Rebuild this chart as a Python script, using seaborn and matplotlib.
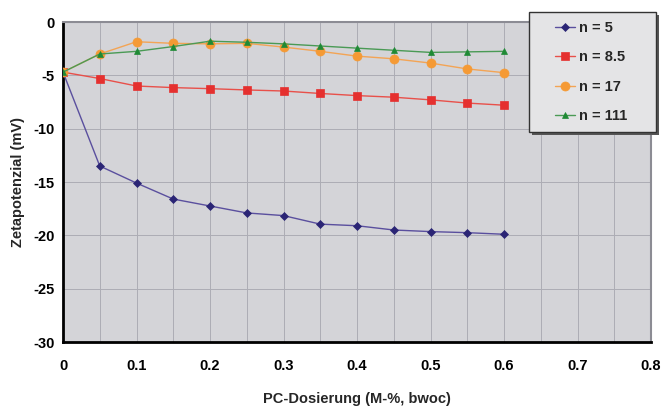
import numpy as np
import pandas as pd
import matplotlib
matplotlib.use("Agg")
import matplotlib.pyplot as plt
import seaborn as sns
from matplotlib.ticker import MultipleLocator
from matplotlib.patches import Rectangle

# PC dosage (M-%, bwoc)
dosage = [0.0, 0.05, 0.1, 0.15, 0.2, 0.25, 0.3, 0.35, 0.4, 0.45, 0.5, 0.55, 0.6]

# Zeta potential (mV) per side-chain length n
zeta_n5 = [-4.7, -13.5, -15.1, -16.6, -17.25, -17.9, -18.15, -18.95, -19.1, -19.5, -19.65, -19.75, -19.9]
zeta_n8_5 = [-4.7, -5.3, -6.0, -6.15, -6.25, -6.37, -6.47, -6.7, -6.9, -7.05, -7.3, -7.6, -7.8]
zeta_n17 = [-4.7, -3.0, -1.85, -2.0, -2.05, -2.0, -2.35, -2.75, -3.2, -3.45, -3.85, -4.4, -4.75]
zeta_n111 = [-4.7, -3.0, -2.75, -2.3, -1.8, -1.9, -2.05, -2.25, -2.45, -2.65, -2.85, -2.8, -2.75]

series_labels = ["n = 5", "n = 8.5", "n = 17", "n = 111"]

x_ticks = [0, 0.1, 0.2, 0.3, 0.4, 0.5, 0.6, 0.7, 0.8]
x_tick_labels = ["0", "0.1", "0.2", "0.3", "0.4", "0.5", "0.6", "0.7", "0.8"]
y_ticks = [0, -5, -10, -15, -20, -25, -30]

df = pd.concat([
    pd.DataFrame({"x": dosage, "y": vals, "serie": lab})
    for lab, vals in zip(series_labels, [zeta_n5, zeta_n8_5, zeta_n17, zeta_n111])
], ignore_index=True)

sns.set_theme(style="white")
plt.rcParams["font.family"] = ["Liberation Sans", "DejaVu Sans"]

line_colors = {"n = 5": "#5a4f9e", "n = 8.5": "#e8504a", "n = 17": "#f3a455", "n = 111": "#4a9a55"}
marker_colors = {"n = 5": "#2b2575", "n = 8.5": "#e5302f", "n = 17": "#f59a35", "n = 111": "#1f8a35"}
markers = {"n = 5": "D", "n = 8.5": "s", "n = 17": "o", "n = 111": "^"}
msizes = {"n = 5": 4.0, "n = 8.5": 6.0, "n = 17": 6.5, "n = 111": 4.5}

W, H = 663, 407
fig = plt.figure(figsize=(W / 100, H / 100), dpi=100)
ax = fig.add_axes([63 / W, 1 - 342 / H, 588 / W, 320 / H])
ax.set_facecolor("#d4d4d8")

for lab in series_labels:
    sub = df[df["serie"] == lab]
    sns.lineplot(data=sub, x="x", y="y", ax=ax, color=line_colors[lab], linewidth=1.0,
                 marker=markers[lab], markersize=msizes[lab],
                 markerfacecolor=marker_colors[lab], markeredgecolor=marker_colors[lab],
                 markeredgewidth=0.5, label=lab, legend=False, zorder=3)

ax.set_xlim(0, 0.8)
ax.set_ylim(-30, 0)
ax.set_xticks(x_ticks)
ax.set_xticklabels(x_tick_labels)
ax.xaxis.set_minor_locator(MultipleLocator(0.05))
ax.set_yticks(y_ticks)
ax.set_yticklabels([str(v) for v in y_ticks])

ax.grid(True, which="both", axis="x", color="#acacb4", linewidth=0.7)
ax.grid(True, which="major", axis="y", color="#acacb4", linewidth=0.7)
ax.set_axisbelow(True)

ax.tick_params(axis="both", which="major", direction="in", length=4, width=1.5,
               colors="black", labelsize=10.5, pad=12)
ax.tick_params(axis="x", which="minor", length=0)
for t in ax.get_xticklabels() + ax.get_yticklabels():
    t.set_fontweight("bold")
ax.tick_params(axis="y", pad=6)

for side in ["left", "bottom"]:
    ax.spines[side].set_color("black")
    ax.spines[side].set_linewidth(2.0)
for side in ["top", "right"]:
    ax.spines[side].set_color("#8c8c94")
    ax.spines[side].set_linewidth(1.5)

ax.set_xlabel("PC-Dosierung (M-%, bwoc)", fontsize=10.5, fontweight="bold", labelpad=14)
ax.set_ylabel("Zetapotenzial (mV)", fontsize=10.5, fontweight="bold", labelpad=6)

# Legend box with drop shadow, drawn in figure pixels
bx0, bx1, by0, by1 = 529, 656, 12, 132
shadow = Rectangle(((bx0 + 3) / W, 1 - (by1 + 3) / H), (bx1 - bx0) / W, (by1 - by0) / H,
                   transform=fig.transFigure, facecolor="#555555", edgecolor="none", zorder=4)
box = Rectangle((bx0 / W, 1 - by1 / H), (bx1 - bx0) / W, (by1 - by0) / H,
                transform=fig.transFigure, facecolor="#e4e4e6", edgecolor="#333333",
                linewidth=1.0, zorder=5)
fig.patches.extend([shadow, box])

handles, labels = ax.get_legend_handles_labels()
leg = fig.legend(handles, labels, loc="center left",
                 bbox_to_anchor=(555 / W, 1 - 72 / H),
                 frameon=False, prop={"weight": "bold", "size": 10.5},
                 labelspacing=1.05, handlelength=1.35, borderpad=0, borderaxespad=0,
                 handletextpad=0.3)
leg.set_zorder(6)

fig.savefig("out.png", dpi=100, facecolor="white")
